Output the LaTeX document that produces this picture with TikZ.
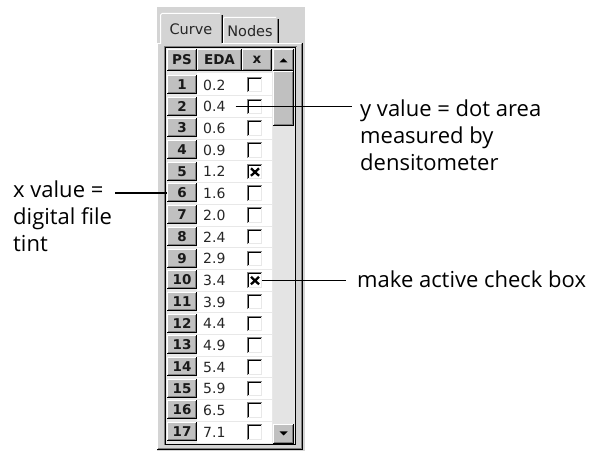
\documentclass[tikz,border=0pt]{standalone}
\usepackage{fontspec}
\setmainfont{Open Sans}
\newfontfamily\uifont{DejaVu Sans}
\definecolor{panel}{RGB}{212,212,212}
\definecolor{btn}{RGB}{192,192,192}
\definecolor{edgeg}{RGB}{128,128,128}
\definecolor{track}{RGB}{228,228,228}
\definecolor{gridc}{RGB}{232,232,232}
\tikzset{
  lbl/.style={font=\fontsize{22}{27}\selectfont, align=left, inner sep=0pt, text=black},
  uitxt/.style={font=\uifont\fontsize{14}{16}\selectfont, inner sep=0pt, text=black!85},
  tabtxt/.style={font=\uifont\fontsize{14.5}{16}\selectfont, inner sep=0pt, text=black!85},
  uibold/.style={font=\uifont\bfseries\fontsize{13.5}{16}\selectfont, inner sep=0pt, text=black!90},
  pscell/.style={uibold, minimum width=30pt, minimum height=19pt},
  chk/.style={minimum width=15pt, minimum height=15pt, inner sep=0pt},
  ptr/.style={draw=black, line width=1.3pt},
}
\newcommand\uibevel[4]{%
  \fill[btn] (#1,#2) rectangle (#3,#4);
  \draw[white,line width=1pt] (#1+0.5,#4-1) -- (#1+0.5,#2+0.5) -- (#3-1,#2+0.5);
  \draw[black,line width=1pt] (#1,#4-0.5) -- (#3-0.5,#4-0.5) -- (#3-0.5,#2);
  \draw[edgeg,line width=1pt] (#1+1,#4-1.5) -- (#3-1.5,#4-1.5) -- (#3-1.5,#2+1);
}
\begin{document}
\begin{tikzpicture}[x=1pt,y=-1pt]
\useasboundingbox (0,0) rectangle (590,454);
% window panel
\fill[panel] (157,7) rectangle (305,451);
% tabs
\draw[white,line width=1pt] (160.5,44) -- (160.5,15) -- (162,13.5) -- (220,13.5);
\draw[edgeg,line width=1pt] (221.5,15) -- (221.5,43);
\draw[black,line width=1pt] (222.5,15) -- (222.5,43);
\draw[white,line width=1pt] (223.5,43) -- (223.5,18) -- (225,17.5) -- (276,17.5);
\draw[edgeg,line width=1pt] (277.5,19) -- (277.5,43);
\draw[black,line width=1pt] (278.5,19) -- (278.5,43);
\node[tabtxt] (tabcurve) at (191,29) {Curve};
\node[tabtxt] (tabnodes) at (250,31) {Nodes};
% tab page border
\draw[white,line width=1pt] (157.5,449) -- (157.5,43.5) -- (160,43.5);
\draw[white,line width=1pt] (222,43.5) -- (301,43.5);
\draw[edgeg,line width=1pt] (301.5,44) -- (301.5,448.5) -- (158,448.5);
\draw[black,line width=1pt] (302.5,43) -- (302.5,449.5) -- (157,449.5);
% table frame
\fill[gridc] (166,48) rectangle (295,444);
\fill[white] (197,73) rectangle (272,444);
\draw[edgeg,line width=1pt] (164.5,445) -- (164.5,46.5) -- (297,46.5);
\draw[black,line width=1pt] (165.5,47.5) rectangle (295.5,444.5);
% header
\uibevel{167}{49}{197}{71}
\uibevel{197}{49}{242}{71}
\uibevel{242}{49}{272}{71}
\node[uibold] (hps) at (182,60) {PS};
\node[uibold] (heda) at (219.5,60) {EDA};
\node[uibold] (hx) at (257,60) {x};
% scrollbar
\fill[track] (273,71) rectangle (294,424);
\uibevel{273}{49}{294}{71}
\uibevel{273}{71}{294}{126}
\uibevel{273}{424}{294}{444}
\fill[black] (279.5,62.5) -- (287.5,62.5) -- (283.5,58.5) -- cycle;
\fill[black] (279.5,431.5) -- (287.5,431.5) -- (283.5,435.5) -- cycle;
% rows
\foreach \v [count=\i] in {0.2,0.4,0.6,0.9,1.2,1.6,2.0,2.4,2.9,3.4,3.9,4.4,4.9,5.4,5.9,6.5,7.1} {
  \pgfmathsetmacro\c{85+(\i-1)*21.7}
  \draw[gridc,line width=1pt] (197,\c+10.85) -- (272,\c+10.85);
  \uibevel{167}{\c-10}{197}{\c+9}
  \node[pscell] (ps\i) at (182,\c-0.5) {\i};
  \node[uitxt, anchor=west] (v\i) at (203,\c) {\v};
  \node[chk] (cb\i) at (254.5,\c) {};
  \draw[edgeg,line width=1pt] (247.5,\c+7.5) -- (247.5,\c-7.5) -- (262,\c-7.5);
  \draw[black,line width=1pt] (248.5,\c+6.5) -- (248.5,\c-6.5) -- (261,\c-6.5);
  \draw[gridc,line width=1pt] (248,\c+7) -- (261.5,\c+7) -- (261.5,\c-7);
  \ifnum\i=5
    \draw[black,line width=2.3pt] (251,\c-3.5) -- (259,\c+4) (251,\c+4) -- (259,\c-3.5);
  \fi
  \ifnum\i=10
    \draw[black,line width=2.3pt] (251,\c-3.5) -- (259,\c+4) (251,\c+4) -- (259,\c-3.5);
  \fi
}
% labels
\node[lbl, anchor=north west] (ylab) at (360,100) {y value = dot area\\measured by\\densitometer};
\node[lbl, anchor=north west] (xlab) at (13,181) {x value =\\digital file\\tint};
\node[lbl, anchor=base west] (clab) at (357,288) {make active check box};
% connectors
\draw[ptr] ([xshift=10pt]v2.east) -- ([xshift=-8pt]ylab.west |- v2.east);
\draw[ptr] ([xshift=3pt]xlab.east |- ps6.west) -- (ps6.west);
\draw[ptr] (cb10.east) -- ([xshift=-11pt]clab.west |- cb10.east);
\end{tikzpicture}
\end{document}
